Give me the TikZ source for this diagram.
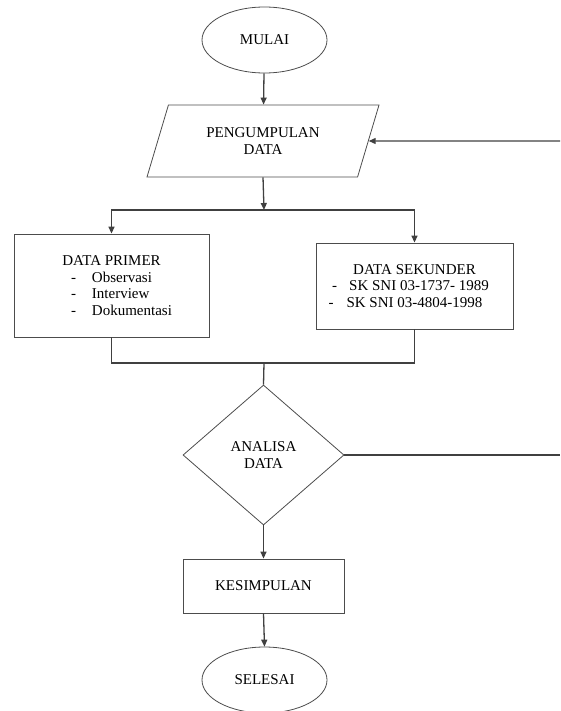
\documentclass[tikz,border=0pt]{standalone}
\usepackage{fontspec}
\setmainfont{Liberation Serif}
\usetikzlibrary{shapes.geometric,arrows.meta}
\tikzset{
  flowline/.style={line width=1.3pt, color=black!75},
  flowarrow/.style={flowline, -{Triangle[length=7pt,width=6pt]}},
  shapeline/.style={draw=black!70, line width=0.8pt, inner sep=0pt, align=center, font=\fontsize{15}{16.5}\selectfont},
}
\newcommand{\listline}[1]{\hspace*{20pt}\makebox[101pt][l]{-\hspace{16pt}#1}}

\begin{document}
\begin{tikzpicture}[x=1pt, y=-1pt]
			%%%%% START %%%%%
			\useasboundingbox (0,0) rectangle (560,711);
			
			\node[shapeline, ellipse, minimum width=125pt, minimum height=66pt] (mulai) at (264.5, 40) {MULAI};
			\node[shapeline, trapezium, trapezium left angle=51, trapezium right angle=129, trapezium stretches body, minimum width=232pt, minimum height=72pt] (pengumpulan) at (263, 141) {PENGUMPULAN\\DATA};
			
			\node[shapeline, rectangle, minimum width=195pt, minimum height=103pt] (primer) at (111.5, 285.5) {DATA PRIMER\\\listline{Observasi}\\\listline{Interview}\\\listline{Dokumentasi}};
			\node[shapeline, rectangle, minimum width=197pt, minimum height=86pt] (sekunder) at (414.5, 286) {DATA SEKUNDER\\\hspace*{-8pt}-\hspace{12pt}SK SNI 03-1737- 1989\\\hspace*{-18pt}-\hspace{13pt}SK SNI 03-4804-1998};
			
			\node[shapeline, diamond, minimum width=161pt, minimum height=140pt] (analisa) at (263.5, 455) {ANALISA\\DATA};
			\node[shapeline, rectangle, minimum width=161pt, minimum height=54pt] (kesimpulan) at (263.5, 586) {KESIMPULAN};
			\node[shapeline, ellipse, minimum width=125pt, minimum height=66pt] (selesai) at (264.5, 680) {SELESAI};
			
			\coordinate (split) at (264, 210);
			\coordinate (join) at (264, 363);
			\coordinate (backout) at (560, 455);
			\coordinate (backin) at (560, 141);
			
			\draw[flowarrow] (mulai) -- (pengumpulan);
			\draw[flowarrow] (pengumpulan.south) -- (split);
			\draw[flowarrow] (split) -| (primer.north);
			\draw[flowarrow] (split) -| (sekunder.north);
			
			\draw[flowline] (primer.south) |- (join) -| (sekunder.south);
			\draw[flowline] (join) -- (analisa.north);
			
			\draw[flowarrow] (analisa.south) -- (kesimpulan.north);
			\draw[flowarrow] (kesimpulan.south) -- (selesai.north);
			
			\draw[flowline] (analisa.east) -- (backout);
			\draw[flowarrow] (backin) -- (pengumpulan.east);
			
			%%%%% END %%%%%
\end{tikzpicture}
\end{document}
